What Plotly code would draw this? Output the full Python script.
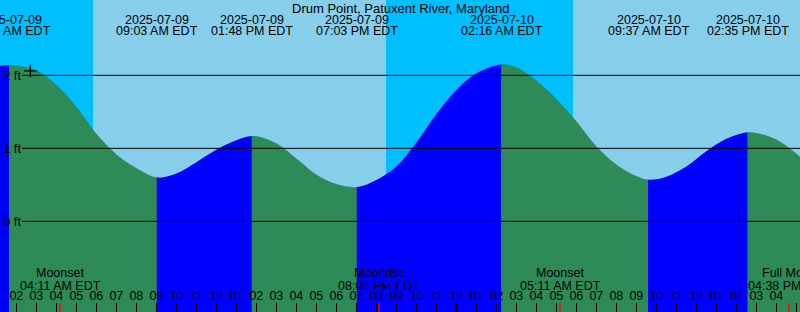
import plotly.graph_objects as go
import pandas as pd

# ---------------- data ----------------
station = "Drum Point, Patuxent River, Maryland"

ext_times = ["2025-07-09 01:40", "2025-07-09 09:03", "2025-07-09 13:48",
             "2025-07-09 19:03", "2025-07-10 02:16", "2025-07-10 09:37",
             "2025-07-10 14:35"]
ext_levels = [2.14, 0.60, 1.17, 0.47, 2.15, 0.57, 1.22]
ext_dates = ["2025-07-09", "2025-07-09", "2025-07-09", "2025-07-09",
             "2025-07-10", "2025-07-10", "2025-07-10"]
ext_clock = ["01:40 AM EDT", "09:03 AM EDT", "01:48 PM EDT", "07:03 PM EDT",
             "02:16 AM EDT", "09:37 AM EDT", "02:35 PM EDT"]

# water level at each hour (ft)
curve_times = [
    "2025-07-09 01:11", "2025-07-09 02:00", "2025-07-09 03:00", "2025-07-09 04:00",
    "2025-07-09 05:00", "2025-07-09 06:00", "2025-07-09 07:00", "2025-07-09 08:00",
    "2025-07-09 10:00", "2025-07-09 11:00", "2025-07-09 12:00",
    "2025-07-09 13:00", "2025-07-09 15:00", "2025-07-09 16:00",
    "2025-07-09 17:00", "2025-07-09 18:00", "2025-07-09 20:00",
    "2025-07-09 21:00", "2025-07-09 22:00", "2025-07-09 23:00", "2025-07-10 00:00",
    "2025-07-10 01:00", "2025-07-10 03:00", "2025-07-10 04:00",
    "2025-07-10 05:00", "2025-07-10 06:00", "2025-07-10 07:00", "2025-07-10 08:00",
    "2025-07-10 09:00", "2025-07-10 10:30", "2025-07-10 11:30", "2025-07-10 12:30",
    "2025-07-10 13:30", "2025-07-10 15:00", "2025-07-10 16:00",
    "2025-07-10 17:00", "2025-07-10 17:11"]
curve_levels = [
    2.13, 2.135, 2.07, 1.87,
    1.57, 1.20, 0.92, 0.73,
    0.655, 0.81, 0.98,
    1.11, 1.07, 0.86,
    0.64, 0.51, 0.565,
    0.75, 1.08, 1.47, 1.80,
    2.03, 2.11, 1.93,
    1.68, 1.37, 1.03, 0.78,
    0.62, 0.61, 0.75, 0.96,
    1.13, 1.21, 1.12,
    0.93, 0.885]

sun_events = ["2025-07-09 05:50", "2025-07-09 20:29", "2025-07-10 05:50"]  # rise, set, rise

moon_times = ["2025-07-09 04:11", "2025-07-09 20:08", "2025-07-10 05:11", "2025-07-10 16:38"]
moon_names = ["Moonset", "Moonrise", "Moonset", "Full Moon"]
moon_clock = ["04:11 AM EDT", "08:08 PM EDT", "05:11 AM EDT", "04:38 PM EDT"]

level_ticks = [0, 1, 2]
now_time = "2025-07-09 02:42"
now_level = 2.06

x_range = ["2025-07-09 01:11", "2025-07-10 17:11"]
y_range = [-1.242, 3.032]

# ---------------- styling ----------------
NIGHT = "#00BFFF"
DAY = "#87CEEB"
FALL = "#2E8B57"
RISE = "#0000FF"
FONT = "Liberation Sans"
FS = 12.5
H = 312.0
W = 800.0

fig = go.Figure()

df = pd.DataFrame({"t": pd.to_datetime(curve_times + ext_times),
                   "h": curve_levels + ext_levels})
df = df.drop_duplicates("t").sort_values("t").reset_index(drop=True)

xs, xe = pd.Timestamp(x_range[0]), pd.Timestamp(x_range[1])
span = xe - xs
ext_t = pd.to_datetime(ext_times)
bounds = [xs] + list(ext_t) + [xe]

axes = {}
pad = 0.6 / W
n_seg = len(bounds) - 1
for i, (a, b) in enumerate(zip(bounds[:-1], bounds[1:])):
    ha = df.loc[(df["t"] - a).abs().idxmin(), "h"]
    hb = df.loc[(df["t"] - b).abs().idxmin(), "h"]
    color = RISE if hb > ha else FALL
    d0 = max(0.0, (a - xs) / span - pad)
    d1 = min(1.0, (b - xs) / span + pad)
    r0 = xs + span * d0
    r1 = xs + span * d1
    name = f"xaxis{i + 2}"
    ref = f"x{i + 2}"
    axes[name] = dict(type="date", domain=[d0, d1], range=[r0, r1], visible=False,
                      anchor="y", fixedrange=True)
    fig.add_trace(go.Scatter(x=[df["t"].iloc[0], df["t"].iloc[-1]],
                             y=[y_range[0] - 1, y_range[0] - 1], mode="lines",
                             line=dict(width=0), hoverinfo="skip", xaxis=ref, yaxis="y"))
    fig.add_trace(go.Scatter(x=df["t"], y=df["h"], mode="lines",
                             line=dict(width=0, shape="spline", smoothing=1, color=color),
                             fill="tonexty", fillcolor=color, hoverinfo="skip",
                             xaxis=ref, yaxis="y"))

# time axis drawn last so its ticks sit on top of the water
tick_id = n_seg + 2
axes[f"xaxis{tick_id}"] = dict(
    type="date", domain=[0, 1], range=x_range, anchor="y", showgrid=False,
    zeroline=False, ticks="inside", ticklen=9, tickwidth=1, tickcolor="black",
    tick0="2025-07-09 00:00", dtick=3600000, tickformat="%I",
    ticklabelposition="inside", tickfont=dict(family=FONT, size=FS, color="black"),
    showline=False, fixedrange=True, layer="above traces")

fig.add_trace(go.Scatter(x=[now_time], y=[now_level], mode="markers",
                         marker=dict(symbol="cross-thin", size=9,
                                     line=dict(color="black", width=1.2)),
                         hoverinfo="skip", xaxis=f"x{tick_id}", yaxis="y"))

shapes = []
sun_t = pd.to_datetime(sun_events)
shapes.append(dict(type="rect", xref="x", yref="paper", x0=sun_t[0], x1=sun_t[1],
                   y0=0, y1=1, fillcolor=DAY, line=dict(width=0), layer="below"))
shapes.append(dict(type="rect", xref="x", yref="paper", x0=sun_t[2], x1=x_range[1],
                   y0=0, y1=1, fillcolor=DAY, line=dict(width=0), layer="below"))
for lv in level_ticks:
    shapes.append(dict(type="line", xref="paper", yref="y", x0=22 / W, x1=1,
                       y0=lv, y1=lv, line=dict(color="black", width=1), layer="above"))
shapes.append(dict(type="line", xref="x", yref="paper", x0="2025-07-10 00:00",
                   x1="2025-07-10 00:00", y0=0, y1=9 / H,
                   line=dict(color="black", width=3), layer="above"))
for mt in moon_times:
    shapes.append(dict(type="line", xref="x", yref="paper", x0=mt, x1=mt,
                       y0=0, y1=9 / H, line=dict(color="red", width=1.3), layer="above"))

ann = []
font = dict(family=FONT, size=FS, color="black")
ann.append(dict(text=station, xref="paper", yref="paper", x=0.5, y=1 - 8 / H,
                showarrow=False, font=dict(family=FONT, size=13, color="black"),
                xanchor="center", yanchor="middle"))
for t, d, c in zip(ext_times, ext_dates, ext_clock):
    ann.append(dict(text=d, xref="x", yref="paper", x=t, y=1 - 19.5 / H,
                    showarrow=False, font=font, xanchor="center", yanchor="middle"))
    ann.append(dict(text=c, xref="x", yref="paper", x=t, y=1 - 31.5 / H,
                    showarrow=False, font=font, xanchor="center", yanchor="middle"))
for t, n, c in zip(moon_times, moon_names, moon_clock):
    ann.append(dict(text=n, xref="x", yref="paper", x=t, y=1 - 273 / H,
                    showarrow=False, font=font, xanchor="center", yanchor="middle"))
    ann.append(dict(text=c, xref="x", yref="paper", x=t, y=1 - 285.5 / H,
                    showarrow=False, font=font, xanchor="center", yanchor="middle"))
for lv in level_ticks:
    ann.append(dict(text=f"{lv} ft", xref="paper", yref="y", x=0, y=lv, xshift=1,
                    showarrow=False, font=dict(family=FONT, size=13, color="black"),
                    xanchor="left", yanchor="middle"))

fig.update_layout(
    width=800, height=312, margin=dict(l=0, r=0, t=0, b=0),
    paper_bgcolor=NIGHT, plot_bgcolor="rgba(0,0,0,0)", showlegend=False,
    shapes=shapes, annotations=ann,
    xaxis=dict(type="date", range=x_range, visible=False, fixedrange=True),
    yaxis=dict(range=y_range, visible=False, fixedrange=True),
    **axes,
)

fig.write_html("out.html", config={"displayModeBar": False},
               post_script="document.body.style.margin='0';document.body.style.overflow='hidden';")
